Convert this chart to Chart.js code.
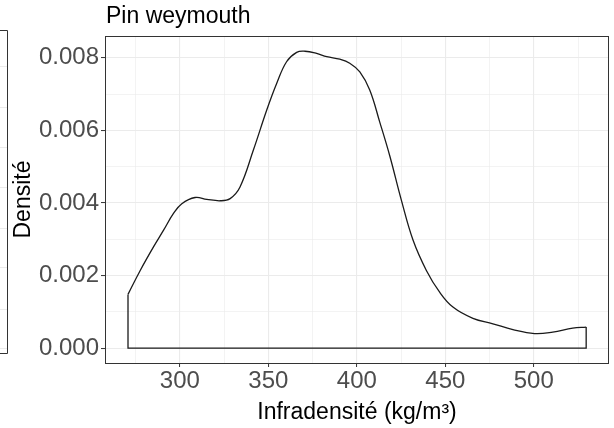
<!DOCTYPE html>
<html>
<head>
<meta charset="utf-8">
<script src="https://cdn.jsdelivr.net/npm/chart.js@4"></script>
<style>
  body { margin: 0; background: #fff; }
  canvas { display: block; }
</style>
</head>
<body>
<canvas id="densityChart" width="614" height="428"></canvas>
<script>
// density curve
const densityX = [270.7, 277.6, 285.1, 290.8, 296.4, 301.1, 308.6, 315.2, 322.7, 328.4,
    334.0, 341.5, 349.1, 354.7, 360.3, 366.0, 370.7, 377.3, 383.0, 390.4,
    396.0, 401.7, 407.3, 413.0, 418.6, 425.2, 431.8, 439.3, 446.8, 454.3,
    465.6, 476.9, 488.2, 500.4, 510.7, 522.0, 529.6];
const densityY = [0.00148, 0.00214, 0.00279, 0.00325, 0.00371, 0.00398, 0.00415, 0.00410, 0.00406, 0.00412,
    0.00444, 0.00545, 0.00656, 0.00729, 0.00789, 0.00815, 0.00818, 0.00812, 0.00803, 0.00796,
    0.00785, 0.00761, 0.00711, 0.00622, 0.00530, 0.00407, 0.00297, 0.00214, 0.00154, 0.00113,
    0.00082, 0.00067, 0.00051, 0.00040, 0.00044, 0.00055, 0.00058];

const xTicks = [300, 350, 400, 450, 500];
const xMinor = [275, 325, 375, 425, 475, 525];
const yTicks = [0, 0.002, 0.004, 0.006, 0.008];
const yMinor = [0.001, 0.003, 0.005, 0.007];

const titleText = 'Pin weymouth';
const xTitle = 'Infradensité (kg/m³)';
const yTitle = 'Densité';

const FONT = '"Liberation Sans", Arial, sans-serif';

const curve = densityX.map((x, i) => ({ x: x, y: densityY[i] }));
const n = densityX.length;
// closing edges of the density polygon
const baseEdges = [
    { x: densityX[0], y: densityY[0] },
    { x: densityX[0], y: 0 },
    { x: densityX[n - 1], y: 0 },
    { x: densityX[n - 1], y: densityY[n - 1] }
];

function isMajor(list, v) {
    return list.some(t => Math.abs(t - v) < 1e-9);
}

const panelPlugin = {
    id: 'panel',
    afterDraw(chart) {
        const c = chart.ctx;
        const a = chart.chartArea;
        c.save();
        // neighbouring panel, cut off at the left edge
        c.strokeStyle = '#ebebeb';
        c.lineWidth = 1;
        [66, 107, 147, 187, 228, 267, 309, 348].forEach(y => {
            c.beginPath(); c.moveTo(0, y + 0.5); c.lineTo(7, y + 0.5); c.stroke();
        });
        c.strokeStyle = '#333333';
        c.beginPath();
        c.moveTo(0, 30.5); c.lineTo(7.5, 30.5); c.lineTo(7.5, 353.5); c.lineTo(0, 353.5);
        c.stroke();
        // panel border
        c.strokeRect(Math.round(a.left) + 0.5, Math.round(a.top) + 0.5,
            Math.round(a.right - a.left) - 1, Math.round(a.bottom - a.top));
        // title
        c.fillStyle = '#000';
        c.font = '23px ' + FONT;
        c.textBaseline = 'alphabetic';
        c.textAlign = 'left';
        c.fillText(titleText, a.left + 1, 23);
        c.restore();
    }
};

new Chart(document.getElementById('densityChart'), {
    type: 'line',
    data: {
        datasets: [{
            data: curve,
            borderColor: '#1a1a1a',
            borderWidth: 1.3,
            pointRadius: 0,
            tension: 0.4,
            fill: false
        }, {
            data: baseEdges,
            borderColor: '#1a1a1a',
            borderWidth: 1.3,
            pointRadius: 0,
            tension: 0,
            fill: false
        }]
    },
    options: {
        responsive: false,
        animation: false,
        layout: { padding: { top: 36, right: 5, left: 0, bottom: 0 } },
        plugins: { legend: { display: false }, tooltip: { enabled: false }, title: { display: false } },
        scales: {
            x: {
                type: 'linear',
                min: 257.7,
                max: 542.5,
                afterBuildTicks: s => { s.ticks = [...xMinor, ...xTicks].sort((a, b) => a - b).map(v => ({ value: v })); },
                afterFit: s => { s.height = 65; },
                ticks: {
                    autoSkip: false,
                    maxRotation: 0,
                    padding: 0,
                    color: '#4d4d4d',
                    font: { family: FONT, size: 24 },
                    callback: v => isMajor(xTicks, v) ? String(v) : ''
                },
                grid: {
                    color: c => '#ebebeb',
                    lineWidth: c => isMajor(xTicks, c.tick.value) ? 1.1 : 0.6,
                    tickColor: c => isMajor(xTicks, c.tick.value) ? '#333333' : 'rgba(0,0,0,0)',
                    tickLength: 4,
                    tickWidth: 1
                },
                border: { display: false },
                title: {
                    display: true,
                    text: xTitle,
                    color: '#000',
                    font: { family: FONT, size: 23 },
                    padding: { top: 4, bottom: 2 }
                }
            },
            y: {
                type: 'linear',
                min: -0.00041,
                max: 0.0086,
                afterBuildTicks: s => { s.ticks = [...yTicks, ...yMinor].sort((a, b) => a - b).map(v => ({ value: v })); },
                afterFit: s => { s.width = 105; },
                ticks: {
                    autoSkip: false,
                    padding: 2,
                    color: '#4d4d4d',
                    font: { family: FONT, size: 24 },
                    callback: v => isMajor(yTicks, v) ? v.toFixed(3) : ''
                },
                grid: {
                    color: c => '#ebebeb',
                    lineWidth: c => isMajor(yTicks, c.tick.value) ? 1.1 : 0.6,
                    tickColor: c => isMajor(yTicks, c.tick.value) ? '#333333' : 'rgba(0,0,0,0)',
                    tickLength: 4,
                    tickWidth: 1
                },
                border: { display: false },
                title: {
                    display: true,
                    text: yTitle,
                    color: '#000',
                    font: { family: FONT, size: 23 },
                    padding: { top: 10, bottom: 0 }
                }
            }
        }
    },
    plugins: [panelPlugin]
});
</script>
</body>
</html>
